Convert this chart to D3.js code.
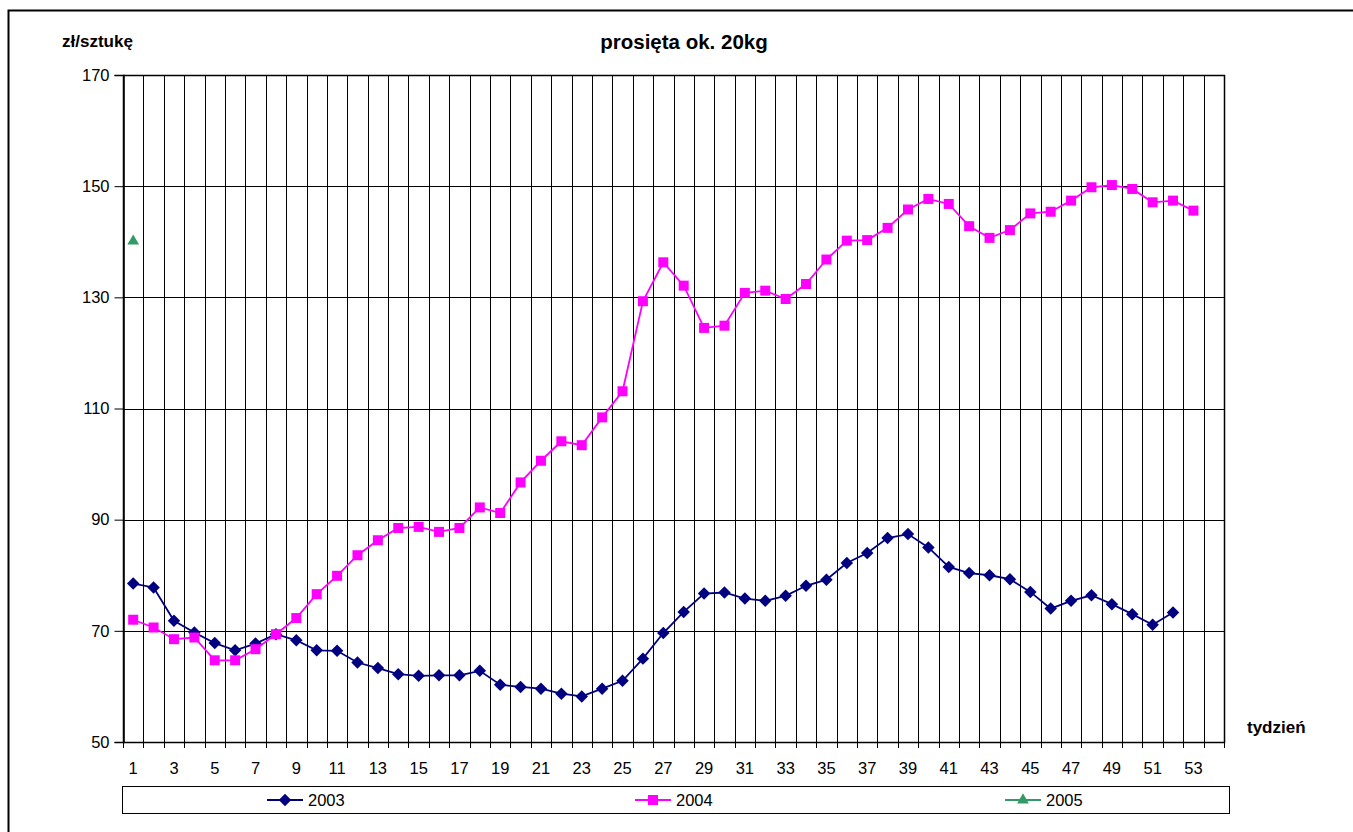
<!DOCTYPE html>
<html>
<head>
<meta charset="utf-8">
<script src="https://cdn.jsdelivr.net/npm/d3@7"></script>
<style>
  body { margin: 0; background: #fff; }
  svg { font-family: "Liberation Sans", Arial, sans-serif; }
  .tick text { font-size: 16.5px; fill: #000; }
</style>
</head>
<body>
<div id="chart"></div>
<script>
// weeks 1..54 on the category axis, labels on odd weeks only
const weeks = d3.range(1, 55);
const yTicks = [50, 70, 90, 110, 130, 150, 170];

const prices2003 = [78.5, 77.8, 71.8, 69.7, 67.8, 66.5, 67.7, 69.4, 68.3, 66.5,
  66.4, 64.3, 63.3, 62.2, 61.9, 62.0, 62.0, 62.8, 60.3, 59.9,
  59.6, 58.7, 58.2, 59.6, 61.0, 65.0, 69.6, 73.4, 76.7, 76.9,
  75.8, 75.4, 76.3, 78.1, 79.2, 82.2, 84.0, 86.7, 87.4, 85.0,
  81.5, 80.4, 80.0, 79.3, 77.0, 74.0, 75.4, 76.4, 74.8, 73.0,
  71.1, 73.3];

const prices2004 = [72.0, 70.6, 68.5, 68.8, 64.7, 64.7, 66.7, 69.4, 72.3, 76.6,
  79.9, 83.6, 86.3, 88.5, 88.7, 87.8, 88.5, 92.2, 91.2, 96.7,
  100.6, 104.1, 103.4, 108.4, 113.1, 129.3, 136.3, 132.1, 124.5, 124.9,
  130.8, 131.2, 129.7, 132.4, 136.8, 140.2, 140.3, 142.5, 145.8, 147.7,
  146.8, 142.8, 140.7, 142.1, 145.1, 145.4, 147.4, 149.8, 150.2, 149.5,
  147.1, 147.4, 145.6];

const prices2005 = [140.1];

const seriesNames = ["2003", "2004", "2005"];
const seriesColors = ["#000080", "#FF00FF", "#339966"];
// diamond is drawn as a square turned 45 degrees, like Excel's marker
const seriesShapes = [d3.symbolSquare, d3.symbolSquare, d3.symbolTriangle];
const seriesSizes = [78, 100, 60];
const seriesRotate = [45, 0, 0];

const width = 1353, height = 832;
const margin = { top: 75, right: 129, bottom: 90, left: 123 };

const svg = d3.select("#chart").append("svg")
  .attr("width", width)
  .attr("height", height);

// outer frame (runs off the right and bottom edge in the original)
svg.append("rect")
  .attr("x", 8.5).attr("y", 10.5)
  .attr("width", width + 20).attr("height", height + 20)
  .attr("fill", "none").attr("stroke", "#000").attr("stroke-width", 2);

const x = d3.scaleBand()
  .domain(weeks)
  .range([margin.left, width - margin.right]);

const y = d3.scaleLinear()
  .domain([50, 170])
  .range([height - margin.bottom, margin.top]);

const plotLeft = margin.left, plotRight = width - margin.right;
const plotTop = margin.top, plotBottom = height - margin.bottom;

// vertical grid at category boundaries
const bounds = weeks.map(d => x(d)).concat([x(54) + x.bandwidth()]);
svg.append("g").selectAll("line")
  .data(bounds.slice(1, -1))
  .enter().append("line")
  .attr("x1", d => Math.round(d) + 0.5).attr("x2", d => Math.round(d) + 0.5)
  .attr("y1", plotTop).attr("y2", plotBottom)
  .attr("stroke", "#000").attr("stroke-width", 1);

// horizontal grid
svg.append("g").selectAll("line")
  .data(yTicks)
  .enter().append("line")
  .attr("x1", plotLeft).attr("x2", plotRight)
  .attr("y1", d => Math.round(y(d)) + 0.5).attr("y2", d => Math.round(y(d)) + 0.5)
  .attr("stroke", "#000").attr("stroke-width", 1);

// plot frame
svg.append("rect")
  .attr("x", plotLeft + 0.5).attr("y", plotTop + 0.5)
  .attr("width", plotRight - plotLeft).attr("height", plotBottom - plotTop)
  .attr("fill", "none").attr("stroke", "#000").attr("stroke-width", 1.5);

// y axis
const yAxis = svg.append("g")
  .attr("transform", "translate(" + (plotLeft + 0.5) + ",0)")
  .call(d3.axisLeft(y).tickValues(yTicks).tickSize(9).tickPadding(5));
yAxis.select(".domain").attr("stroke-width", 1.5);

// x axis ticks at boundaries, labels at centres of odd weeks
svg.append("g").selectAll("line")
  .data(bounds)
  .enter().append("line")
  .attr("x1", d => Math.round(d) + 0.5).attr("x2", d => Math.round(d) + 0.5)
  .attr("y1", plotBottom).attr("y2", plotBottom + 6)
  .attr("stroke", "#000");

svg.append("g").selectAll("text")
  .data(weeks.filter(d => d % 2 === 1))
  .enter().append("text")
  .attr("x", d => x(d) + x.bandwidth() / 2)
  .attr("y", plotBottom + 32)
  .attr("text-anchor", "middle")
  .attr("font-size", 16.5)
  .text(d => d);

// titles
svg.append("text")
  .attr("x", 684).attr("y", 49)
  .attr("text-anchor", "middle")
  .attr("font-size", 20.5).attr("font-weight", "bold")
  .text("prosięta ok. 20kg");

svg.append("text")
  .attr("x", 62).attr("y", 47)
  .attr("font-size", 17).attr("font-weight", "bold")
  .text("zł/sztukę");

svg.append("text")
  .attr("x", 1247).attr("y", 733)
  .attr("font-size", 17).attr("font-weight", "bold")
  .text("tydzień");

// series
const allSeries = [prices2003, prices2004, prices2005];
const cx = i => x(weeks[i]) + x.bandwidth() / 2;

const line = d3.line()
  .x((d, i) => cx(i))
  .y(d => y(d));

allSeries.forEach(function(values, s) {
  const g = svg.append("g");
  g.append("path")
    .datum(values)
    .attr("fill", "none")
    .attr("stroke", seriesColors[s])
    .attr("stroke-width", 1.8)
    .attr("d", line);

  const sym = d3.symbol().type(seriesShapes[s]).size(seriesSizes[s]);
  g.selectAll("path.mark")
    .data(values)
    .enter().append("path")
    .attr("class", "mark")
    .attr("transform", (d, i) => "translate(" + cx(i) + "," + y(d) + ") rotate(" + seriesRotate[s] + ")")
    .attr("fill", seriesColors[s])
    .attr("d", sym);
});

// legend
const legend = svg.append("g");
legend.append("rect")
  .attr("x", 122.5).attr("y", 786.5)
  .attr("width", 1107).attr("height", 27)
  .attr("fill", "#fff").attr("stroke", "#000").attr("stroke-width", 1);

const legendX = [285, 653, 1023];
seriesNames.forEach(function(name, s) {
  const cxL = legendX[s];
  legend.append("line")
    .attr("x1", cxL - 18).attr("x2", cxL + 18)
    .attr("y1", 800).attr("y2", 800)
    .attr("stroke", seriesColors[s]).attr("stroke-width", 1.8);
  legend.append("path")
    .attr("transform", "translate(" + cxL + ",800) rotate(" + seriesRotate[s] + ")")
    .attr("fill", seriesColors[s])
    .attr("d", d3.symbol().type(seriesShapes[s]).size(seriesSizes[s]));
  legend.append("text")
    .attr("x", cxL + 23).attr("y", 806)
    .attr("font-size", 16.5)
    .text(name);
});
</script>
</body>
</html>
